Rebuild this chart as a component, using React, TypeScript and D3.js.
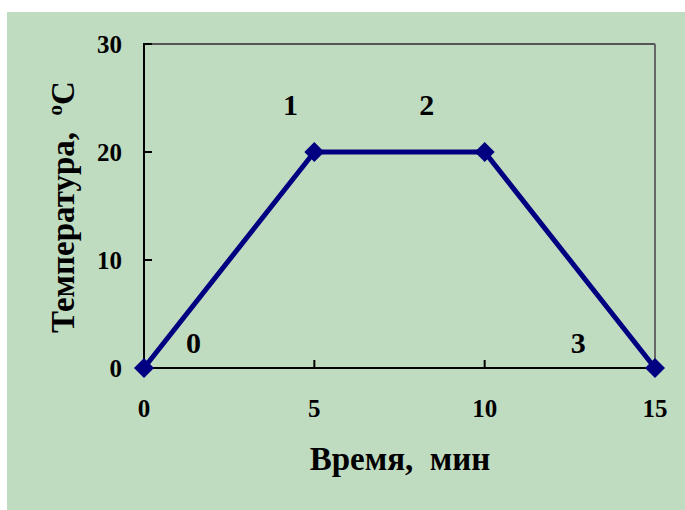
import React from "react";
import * as d3 from "d3";

// время, мин / температура, °C
const timeValues = [0, 5, 10, 15];
const tempValues = [0, 20, 20, 0];

// подписи точек и их положение в координатах данных
const pointNames = ["0", "1", "2", "3"];
const pointNameX = [1.45, 4.3, 8.3, 12.75];
const pointNameY = [2.3, 24.4, 24.4, 2.3];

const xTicks = [0, 5, 10, 15];
const yTicks = [0, 10, 20, 30];

const W = 685;
const H = 510;
const plot = { left: 144, top: 44, right: 655, bottom: 368 };
const txt: React.CSSProperties = {
  fontFamily: '"Liberation Serif", "Times New Roman", "DejaVu Serif", serif',
  fontWeight: "bold",
};
const NAVY = "#000080";

export default function App() {
  const x = d3.scaleLinear().domain([0, 15]).range([plot.left, plot.right]);
  const y = d3.scaleLinear().domain([0, 30]).range([plot.bottom, plot.top]);

  const pts = timeValues.map((t, i) => [t, tempValues[i]] as [number, number]);
  const line = d3
    .line<[number, number]>()
    .x((d) => x(d[0]))
    .y((d) => y(d[1]));

  const diamond = (cx: number, cy: number, r: number) =>
    `M${cx},${cy - r}L${cx + r},${cy}L${cx},${cy + r}L${cx - r},${cy}Z`;

  return (
    <svg width={W} height={H} style={{ position: "absolute", left: 0, top: 0 }}>
      <rect x={0} y={0} width={W} height={H} fill="#ffffff" />
      <rect x={7} y={12} width={W - 7} height={H - 12} fill="#C0DCC0" />

      {/* рамка области построения */}
      <line x1={plot.left} y1={plot.top} x2={plot.right} y2={plot.top} stroke="#555" strokeWidth={2} />
      <line x1={plot.right} y1={plot.top} x2={plot.right} y2={plot.bottom} stroke="#666" strokeWidth={2} />
      <line x1={plot.left} y1={plot.top - 1} x2={plot.left} y2={plot.bottom} stroke="#000" strokeWidth={2} />
      <line x1={plot.left} y1={plot.bottom} x2={plot.right + 1} y2={plot.bottom} stroke="#000" strokeWidth={2} />

      {/* деления и подписи оси Y */}
      {yTicks.map((t) => (
        <g key={"y" + t}>
          <line x1={plot.left} x2={plot.left + 8} y1={y(t)} y2={y(t)} stroke="#000" strokeWidth={2} />
          <text x={plot.left - 22} y={y(t)} dy="0.34em" textAnchor="end" fontSize={25} style={txt}>
            {t}
          </text>
        </g>
      ))}

      {/* деления и подписи оси X */}
      {xTicks.map((t) => (
        <g key={"x" + t}>
          <line x1={x(t)} x2={x(t)} y1={plot.bottom} y2={plot.bottom - 8} stroke="#000" strokeWidth={2} />
          <text x={x(t)} y={plot.bottom + 49} textAnchor="middle" fontSize={25} style={txt}>
            {t}
          </text>
        </g>
      ))}

      {/* линия и маркеры */}
      <path d={line(pts) || ""} fill="none" stroke={NAVY} strokeWidth={5} strokeLinejoin="round" />
      {pts.map((d, i) => (
        <path key={"m" + i} d={diamond(x(d[0]), y(d[1]), 10)} fill={NAVY} />
      ))}

      {/* номера точек */}
      {pointNames.map((n, i) => (
        <text
          key={"n" + i}
          x={x(pointNameX[i])}
          y={y(pointNameY[i])}
          dy="0.34em"
          textAnchor="middle"
          fontSize={30}
          style={txt}
        >
          {n}
        </text>
      ))}

      {/* названия осей */}
      <text x={400} y={470} textAnchor="middle" fontSize={33} style={txt}>
        Время,&nbsp; мин
      </text>
      <text transform="translate(74,207) rotate(-90)" textAnchor="middle" fontSize={33} style={txt}>
        Температура,&nbsp;{" "}
        <tspan dy={-12} fontSize={21}>o</tspan>
        <tspan dy={12}>С</tspan>
      </text>
    </svg>
  );
}
